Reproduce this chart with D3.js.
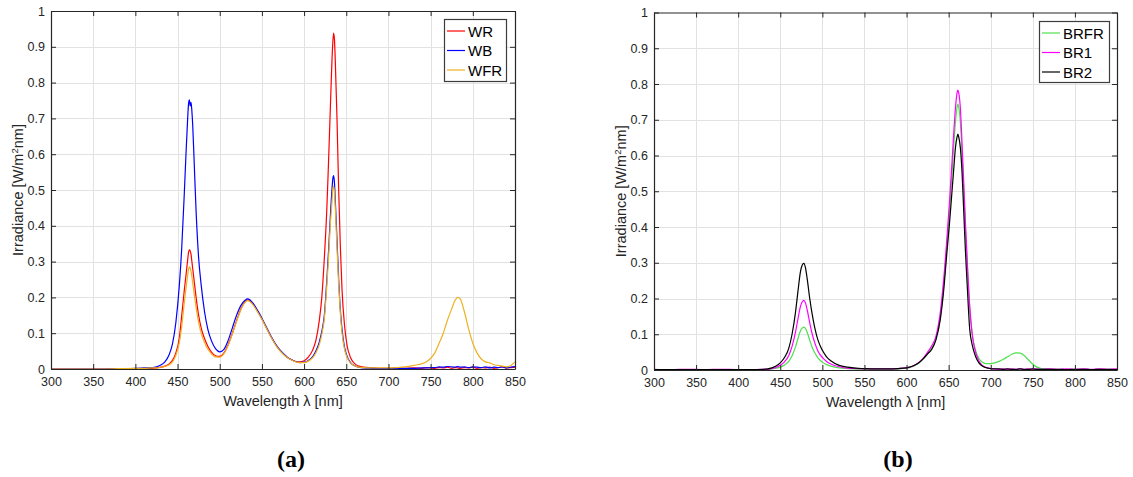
<!DOCTYPE html>
<html>
<head>
<meta charset="utf-8">
<script src="https://cdn.jsdelivr.net/npm/d3@7"></script>
<style>
  body { margin: 0; background: #fff; }
  text { font-family: Arial, "Liberation Sans", sans-serif; }
</style>
</head>
<body>
<svg id="fig" width="1133" height="477"></svg>
<script>
// ---- Panel (a): white-based LED spectra ----
const wlA = [
  300, 320, 340, 360, 380, 400, 410, 420, 425, 430, 435, 440,
  444, 448, 452, 455, 458, 460, 462, 463, 464, 465, 466, 467, 468, 470,
  472, 475, 478, 482, 486, 490, 495, 500, 505, 510, 515, 520, 525, 530,
  533, 536, 540, 545, 550, 555, 560, 565, 570, 575, 580, 585, 590, 595, 600,
  605, 610, 614, 618, 621, 624, 627, 629, 631, 633, 634, 635, 636, 637,
  639, 641, 643, 645, 648, 651, 655, 660, 665, 670, 680, 690, 700, 710, 720,
  730, 740, 745, 750, 755, 760, 765, 770, 775, 779, 782, 785, 790,
  795, 800, 805, 810, 815, 820, 825, 830, 835, 840, 845, 850
];
const WR = [
  0, 0, 0, 0, 0.001, 0.001, 0.001, 0.002, 0.003, 0.005, 0.008, 0.014,
  0.024, 0.045, 0.085, 0.15, 0.22, 0.262, 0.305, 0.325, 0.333, 0.33, 0.32, 0.3, 0.28, 0.24,
  0.2, 0.15, 0.115, 0.085, 0.063, 0.048, 0.037, 0.035, 0.045, 0.068, 0.1, 0.135, 0.167, 0.188,
  0.193, 0.19, 0.18, 0.161, 0.14, 0.117, 0.094, 0.073, 0.056, 0.043, 0.033, 0.026, 0.021, 0.02, 0.023,
  0.033, 0.052, 0.08, 0.135, 0.2, 0.31, 0.45, 0.58, 0.72, 0.86, 0.91, 0.938, 0.92, 0.86,
  0.7, 0.5, 0.34, 0.22, 0.12, 0.065, 0.032, 0.015, 0.008, 0.005, 0.003, 0.002, 0.002, 0.003, 0.002,
  0.003, 0.002, 0.004, 0.003, 0.002, 0.004, 0.003, 0.005, 0.002, 0.004, 0.003, 0.002, 0.004,
  0.003, 0.005, 0.002, 0.004, 0.003, 0.005, 0.002, 0.004, 0.006, 0.003, 0.004, 0.005
];
const WB = [
  0, 0, 0, 0, 0.001, 0.002, 0.003, 0.004, 0.006, 0.011, 0.02, 0.04,
  0.07, 0.13, 0.23, 0.34, 0.49, 0.6, 0.7, 0.74, 0.752, 0.735, 0.745, 0.72, 0.68, 0.56,
  0.44, 0.31, 0.235, 0.16, 0.11, 0.08, 0.057, 0.048, 0.055, 0.08, 0.115, 0.15, 0.177, 0.192,
  0.196, 0.193, 0.182, 0.163, 0.142, 0.118, 0.095, 0.074, 0.057, 0.044, 0.033, 0.026, 0.021, 0.018, 0.019,
  0.024, 0.034, 0.05, 0.075, 0.105, 0.15, 0.25, 0.33, 0.42, 0.5, 0.53, 0.54, 0.52, 0.47,
  0.36, 0.25, 0.165, 0.11, 0.06, 0.035, 0.018, 0.009, 0.005, 0.003, 0.002, 0.001, 0.001, 0.001, 0.002,
  0.002, 0.003, 0.003, 0.004, 0.004, 0.006, 0.005, 0.007, 0.006, 0.005, 0.007, 0.005, 0.006,
  0.004, 0.006, 0.005, 0.004, 0.006, 0.003, 0.005, 0.004, 0.006, 0.003, 0.005, 0.007
];
const WFR = [
  0, 0, 0, 0, 0.001, 0.002, 0.002, 0.003, 0.003, 0.005, 0.007, 0.012,
  0.02, 0.038, 0.072, 0.12, 0.185, 0.225, 0.262, 0.278, 0.285, 0.282, 0.272, 0.258, 0.24, 0.205,
  0.172, 0.13, 0.1, 0.074, 0.055, 0.043, 0.034, 0.033, 0.043, 0.066, 0.098, 0.133, 0.165, 0.186,
  0.191, 0.188, 0.178, 0.159, 0.139, 0.116, 0.093, 0.072, 0.055, 0.042, 0.032, 0.025, 0.02, 0.018, 0.018,
  0.022, 0.031, 0.045, 0.068, 0.097, 0.14, 0.235, 0.31, 0.4, 0.465, 0.5, 0.51, 0.495, 0.45,
  0.34, 0.235, 0.155, 0.1, 0.055, 0.032, 0.017, 0.009, 0.005, 0.004, 0.003, 0.003, 0.003, 0.004, 0.006,
  0.01, 0.015, 0.02, 0.03, 0.045, 0.072, 0.1, 0.137, 0.168, 0.192, 0.2, 0.196, 0.16,
  0.112, 0.072, 0.045, 0.028, 0.02, 0.017, 0.012, 0.01, 0.008, 0.006, 0.01, 0.02
];

// ---- Panel (b): blue/red LED spectra ----
const wlB = [
  300, 320, 340, 360, 380, 400, 410, 420, 430, 435, 440, 445, 450,
  455, 460, 464, 468, 471, 474, 476, 478, 480, 482, 485, 488, 491, 495,
  500, 505, 510, 520, 530, 540, 550, 560, 570, 580, 590, 600,
  605, 610, 615, 620, 625, 630, 635, 640, 644, 648, 651, 654, 656, 658,
  660, 661, 662, 664, 666, 668, 670, 672, 675, 678, 682, 686, 690, 695,
  700, 705, 710, 715, 720, 725, 730, 735, 740, 745, 750, 755, 760,
  770, 780, 790, 800, 810, 820, 830, 840, 850
];
const BRFR = [
  0, 0, 0, 0, 0, 0, 0.001, 0.001, 0.001, 0.002, 0.003, 0.005, 0.008,
  0.014, 0.024, 0.04, 0.064, 0.088, 0.11, 0.117, 0.12, 0.116, 0.105, 0.083, 0.063, 0.048, 0.033,
  0.022, 0.015, 0.011, 0.006, 0.004, 0.003, 0.002, 0.002, 0.002, 0.002, 0.003, 0.005,
  0.008, 0.013, 0.02, 0.031, 0.046, 0.062, 0.088, 0.145, 0.23, 0.35, 0.445, 0.55, 0.625, 0.69,
  0.735, 0.744, 0.735, 0.69, 0.6, 0.5, 0.395, 0.3, 0.175, 0.1, 0.055, 0.032, 0.022, 0.018,
  0.018, 0.02, 0.024, 0.03, 0.037, 0.044, 0.048, 0.047, 0.04, 0.028, 0.016, 0.008, 0.004,
  0.002, 0.001, 0.001, 0.001, 0.001, 0.001, 0.001, 0.001, 0.001
];
const BR1 = [
  0.002, 0.001, 0.002, 0.001, 0.002, 0.001, 0.001, 0.001, 0.002, 0.002, 0.004, 0.007, 0.013,
  0.023, 0.04, 0.066, 0.105, 0.143, 0.178, 0.19, 0.195, 0.187, 0.168, 0.132, 0.1, 0.076, 0.052,
  0.035, 0.024, 0.017, 0.009, 0.005, 0.004, 0.003, 0.003, 0.003, 0.003, 0.004, 0.006,
  0.009, 0.014, 0.022, 0.033, 0.05, 0.068, 0.095, 0.16, 0.25, 0.37, 0.47, 0.58, 0.66, 0.73,
  0.775, 0.783, 0.775, 0.73, 0.63, 0.52, 0.41, 0.31, 0.18, 0.1, 0.05, 0.025, 0.013, 0.007,
  0.004, 0.003, 0.002, 0.003, 0.002, 0.003, 0.002, 0.003, 0.002, 0.003, 0.002, 0.003, 0.002,
  0.003, 0.002, 0.003, 0.002, 0.003, 0.002, 0.003, 0.002, 0.003
];
const BR2 = [
  0.001, 0.001, 0.001, 0.001, 0.001, 0.001, 0.001, 0.001, 0.002, 0.003, 0.006, 0.011, 0.02,
  0.035, 0.06, 0.1, 0.16, 0.22, 0.275, 0.293, 0.298, 0.285, 0.255, 0.2, 0.155, 0.118, 0.082,
  0.055, 0.037, 0.026, 0.013, 0.008, 0.005, 0.004, 0.003, 0.003, 0.003, 0.004, 0.006,
  0.009, 0.014, 0.021, 0.032, 0.045, 0.058, 0.085, 0.14, 0.22, 0.33, 0.41, 0.5, 0.56, 0.62,
  0.652, 0.66, 0.652, 0.62, 0.55, 0.44, 0.33, 0.24, 0.115, 0.07, 0.038, 0.02, 0.011, 0.006,
  0.004, 0.003, 0.003, 0.002, 0.003, 0.002, 0.002, 0.003, 0.002, 0.002, 0.003, 0.002, 0.002,
  0.002, 0.002, 0.001, 0.002, 0.002, 0.001, 0.002, 0.002, 0.001
];

// ---- Axis ticks ----
const xTicks = [300, 350, 400, 450, 500, 550, 600, 650, 700, 750, 800, 850];
const yTicks = [0, 0.1, 0.2, 0.3, 0.4, 0.5, 0.6, 0.7, 0.8, 0.9, 1];
const xLabel = "Wavelength \u03bb [nm]";

const svg = d3.select("#fig");
svg.append("rect").attr("width", 1133).attr("height", 477).attr("fill", "#fff");

const AX = "#262626";

function drawPanel(cfg) {
  const g = svg.append("g");
  const x = d3.scaleLinear().domain([300, 850]).range([cfg.left, cfg.right]);
  const y = d3.scaleLinear().domain([0, 1]).range([cfg.bottom, cfg.top]);

  // grid
  const grid = g.append("g").attr("stroke", "#e2e2e2").attr("stroke-width", 1);
  grid.selectAll("line.gx").data(xTicks.slice(1, -1)).join("line")
    .attr("x1", d => Math.round(x(d)) + 0.5).attr("x2", d => Math.round(x(d)) + 0.5)
    .attr("y1", cfg.top).attr("y2", cfg.bottom);
  grid.selectAll("line.gy").data(yTicks.slice(1, -1)).join("line")
    .attr("y1", d => Math.round(y(d)) + 0.5).attr("y2", d => Math.round(y(d)) + 0.5)
    .attr("x1", cfg.left).attr("x2", cfg.right);

  // spectra
  const line = d3.line().x(d => x(d[0])).y(d => y(d[1])).curve(d3.curveMonotoneX);
  const plot = g.append("g");
  cfg.series.forEach(s => {
    plot.append("path")
      .datum(cfg.wl.map((wl, i) => [wl, s.values[i]]))
      .attr("d", line)
      .attr("fill", "none")
      .attr("stroke", s.color)
      .attr("stroke-width", 1.2)
      .attr("stroke-linejoin", "round");
  });

  // axes (ticks pointing inward on all four sides)
  const fmt = d3.format("~g");
  const axB = g.append("g").attr("transform", `translate(0,${cfg.bottom})`)
    .call(d3.axisBottom(x).tickValues(xTicks).tickFormat(fmt).tickSizeInner(-5).tickSizeOuter(0).tickPadding(8));
  const axL = g.append("g").attr("transform", `translate(${cfg.left},0)`)
    .call(d3.axisLeft(y).tickValues(yTicks).tickFormat(fmt).tickSizeInner(-5).tickSizeOuter(0).tickPadding(6));
  const axT = g.append("g").attr("transform", `translate(0,${cfg.top})`)
    .call(d3.axisTop(x).tickValues(xTicks).tickFormat("").tickSizeInner(-5).tickSizeOuter(0));
  const axR = g.append("g").attr("transform", `translate(${cfg.right},0)`)
    .call(d3.axisRight(y).tickValues(yTicks).tickFormat("").tickSizeInner(-5).tickSizeOuter(0));
  [axB, axL, axT, axR].forEach(a => {
    a.select(".domain").attr("stroke", AX).attr("stroke-width", 1.2);
    a.selectAll(".tick line").attr("stroke", AX).attr("stroke-width", 1);
    a.selectAll("text").attr("fill", AX).style("font-size", "12.5px")
      .style("font-family", "Arial, 'Liberation Sans', sans-serif");
  });

  // axis titles
  g.append("text")
    .attr("x", (cfg.left + cfg.right) / 2).attr("y", cfg.bottom + 37)
    .attr("text-anchor", "middle").attr("fill", AX).style("font-size", "14.5px")
    .text(xLabel);
  const yl = g.append("text")
    .attr("transform", `translate(${cfg.left - 28},${(cfg.top + cfg.bottom) / 2}) rotate(-90)`)
    .attr("text-anchor", "middle").attr("fill", AX).style("font-size", "14.5px");
  yl.append("tspan").text("Irradiance [W/m");
  yl.append("tspan").attr("dy", -5).style("font-size", "9.5px").text("2");
  yl.append("tspan").attr("dy", 5).text("nm]");

  // legend
  const lg = g.append("g");
  lg.append("rect")
    .attr("x", cfg.legend.x + 0.5).attr("y", cfg.legend.y + 0.5)
    .attr("width", cfg.legend.w).attr("height", cfg.legend.h)
    .attr("fill", "#fff").attr("stroke", "#3c3c3c").attr("stroke-width", 1.2);
  cfg.series.forEach((s, i) => {
    const ry = cfg.legend.y + 12 + i * 19.5;
    lg.append("line")
      .attr("x1", cfg.legend.x + 3).attr("x2", cfg.legend.x + 21)
      .attr("y1", ry).attr("y2", ry)
      .attr("stroke", s.color).attr("stroke-width", 1.2);
    lg.append("text")
      .attr("x", cfg.legend.x + 24).attr("y", ry + 5.5)
      .attr("fill", "#000").style("font-size", "15px")
      .text(s.name);
  });

  // panel caption
  svg.append("text")
    .attr("x", cfg.caption.x).attr("y", 467)
    .attr("text-anchor", "middle")
    .style("font-family", "'Liberation Serif', 'Times New Roman', serif")
    .style("font-weight", "bold").style("font-size", "24px")
    .attr("fill", "#000")
    .text(cfg.caption.text);
}

drawPanel({
  left: 51, right: 515, top: 11, bottom: 369,
  wl: wlA,
  series: [
    { name: "WR", values: WR, color: "#ff0000" },
    { name: "WB", values: WB, color: "#0000ff" },
    { name: "WFR", values: WFR, color: "#edb120" }
  ],
  legend: { x: 444, y: 19, w: 62, h: 62 },
  caption: { x: 291, text: "(a)" }
});

drawPanel({
  left: 654, right: 1117, top: 12.5, bottom: 370,
  wl: wlB,
  series: [
    { name: "BRFR", values: BRFR, color: "#4ee04e" },
    { name: "BR1", values: BR1, color: "#ff00ff" },
    { name: "BR2", values: BR2, color: "#000000" }
  ],
  legend: { x: 1039, y: 21, w: 70, h: 61 },
  caption: { x: 898, text: "(b)" }
});
</script>
</body>
</html>
